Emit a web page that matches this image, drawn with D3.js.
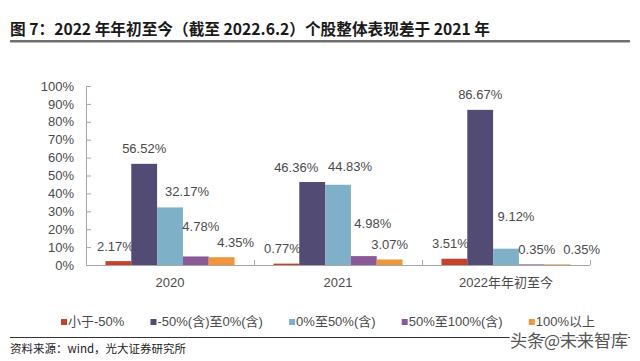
<!DOCTYPE html>
<html>
<head>
<meta charset="utf-8">
<script src="https://cdn.jsdelivr.net/npm/d3@7"></script>
<style>
  body { margin: 0; background: #fff; }
  svg { display: block; }
</style>
</head>
<body>
<div id="chart"></div>
<script>
// data
var categories = ["2020", "2021", "2022年年初至今"];
var seriesNames = ["小于-50%", "-50%(含)至0%(含)", "0%至50%(含)", "50%至100%(含)", "100%以上"];
var seriesColors = ["#c8412b", "#524b74", "#7eb0c7", "#8a5a98", "#f19539"];
var values2020 = [2.17, 56.52, 32.17, 4.78, 4.35];
var values2021 = [0.77, 46.36, 44.83, 4.98, 3.07];
var values2022 = [3.51, 86.67, 9.12, 0.35, 0.35];
var yTicks = [0, 10, 20, 30, 40, 50, 60, 70, 80, 90, 100];

// label nudges (dx, dy) so they sit like in the original
var labelNudge = [
  [[-3, 0], [0, 0], [17, -1], [5, -15], [14, 0]],
  [[-4, 0], [-16, 0], [12, -3], [9, -18], [0, 0]],
  [[-4, 0], [0, 0], [10, -17], [5, 0], [24, 0]]
];

function init() {
  var w = 640, h = 361;
  var left = 86, right = 590, top = 86, bottom = 265;
  var font = "'Liberation Sans', Arial, 'Noto Sans CJK SC', sans-serif";
  var cjk = "'Noto Sans CJK SC', sans-serif";
  var textColor = "#4a4a4a";

  var svg = d3.select("#chart").append("svg")
      .attr("width", w)
      .attr("height", h);

  var rows = [values2020, values2021, values2022];

  // title
  svg.append("text")
      .attr("x", 10)
      .attr("y", 35)
      .attr("font-family", cjk)
      .attr("font-weight", "bold")
      .attr("font-size", "16px")
      .attr("fill", "#1a1a1a")
      .attr("textLength", 480)
      .attr("lengthAdjust", "spacingAndGlyphs")
      .text("图 7：2022 年年初至今（截至 2022.6.2）个股整体表现差于 2021 年");

  svg.append("rect")
      .attr("x", 10).attr("y", 40)
      .attr("width", 620).attr("height", 2.5)
      .attr("fill", "#707070");

  // scales
  var x0 = d3.scaleBand()
      .domain(categories)
      .range([left, right])
      .padding(0);

  var x1 = d3.scaleBand()
      .domain(d3.range(seriesNames.length))
      .range([0, x0.bandwidth()])
      .paddingInner(0)
      .paddingOuter(0.755);

  var y = d3.scaleLinear()
      .domain([0, 100])
      .range([bottom, top]);

  // y axis
  var yAxis = d3.axisLeft(y)
      .tickValues(yTicks)
      .tickSize(-5)
      .tickPadding(12)
      .tickFormat(function(d) { return d + "%"; });

  var gy = svg.append("g")
      .attr("transform", "translate(" + left + ",0)")
      .call(yAxis);
  gy.select(".domain").attr("stroke", "#a6a6a6");
  gy.selectAll(".tick line").attr("stroke", "#a6a6a6");
  gy.selectAll("text")
      .attr("font-family", font)
      .attr("font-size", "13px")
      .attr("fill", textColor);

  // bars
  var groups = svg.selectAll("g.grp")
      .data(rows)
      .enter()
      .append("g")
      .attr("class", "grp")
      .attr("transform", function(d, i) {
          return "translate(" + x0(categories[i]) + ",0)";
      });

  groups.selectAll("rect")
      .data(function(d) { return d; })
      .enter()
      .append("rect")
      .attr("x", function(d, j) { return x1(j); })
      .attr("y", function(d) { return y(d); })
      .attr("width", x1.bandwidth())
      .attr("height", function(d) { return bottom - y(d); })
      .attr("fill", function(d, j) { return seriesColors[j]; });

  // value labels
  groups.each(function(row, i) {
      d3.select(this).selectAll("text.val")
          .data(row)
          .enter()
          .append("text")
          .attr("class", "val")
          .attr("x", function(d, j) { return x1(j) + x1.bandwidth() / 2 + labelNudge[i][j][0]; })
          .attr("y", function(d, j) { return y(d) - 15 + labelNudge[i][j][1]; })
          .attr("dy", "0.35em")
          .attr("text-anchor", "middle")
          .attr("font-family", font)
          .attr("font-size", "13px")
          .attr("fill", textColor)
          .text(function(d) { return d.toFixed(2) + "%"; });
  });

  // x axis
  svg.append("line")
      .attr("x1", left).attr("x2", right)
      .attr("y1", bottom + 0.5).attr("y2", bottom + 0.5)
      .attr("stroke", "#a6a6a6");

  svg.selectAll("line.xtick")
      .data(categories)
      .enter()
      .append("line")
      .attr("class", "xtick")
      .attr("x1", function(d) { return x0(d) + x0.bandwidth() + 0.5; })
      .attr("x2", function(d) { return x0(d) + x0.bandwidth() + 0.5; })
      .attr("y1", bottom - 5)
      .attr("y2", bottom)
      .attr("stroke", "#a6a6a6");

  svg.selectAll("text.cat")
      .data(categories)
      .enter()
      .append("text")
      .attr("class", "cat")
      .attr("x", function(d) { return x0(d) + x0.bandwidth() / 2; })
      .attr("y", 282)
      .attr("dy", "0.35em")
      .attr("text-anchor", "middle")
      .attr("font-family", font)
      .attr("font-size", "13px")
      .attr("fill", textColor)
      .text(function(d) { return d; });

  // legend, spread between 61 and 595
  var legend = svg.append("g");
  var items = legend.selectAll("g")
      .data(seriesNames)
      .enter()
      .append("g");
  items.append("rect")
      .attr("width", 6).attr("height", 6)
      .attr("y", 319)
      .attr("fill", function(d, j) { return seriesColors[j]; });
  items.append("text")
      .attr("x", 7)
      .attr("y", 321)
      .attr("dy", "0.35em")
      .attr("font-family", font)
      .attr("font-size", "13px")
      .attr("fill", textColor)
      .text(function(d) { return d; });

  var widths = [];
  items.each(function() { widths.push(7 + d3.select(this).select("text").node().getComputedTextLength()); });
  var gap = (595 - 61 - d3.sum(widths)) / (widths.length - 1);
  var pos = 61;
  items.attr("transform", function(d, j) {
      var t = "translate(" + pos + ",0)";
      pos += widths[j] + gap;
      return t;
  });

  // footer
  svg.append("line")
      .attr("x1", 10).attr("x2", 630)
      .attr("y1", 337.5).attr("y2", 337.5)
      .attr("stroke", "#333");

  svg.append("text")
      .attr("x", 10)
      .attr("y", 349)
      .attr("dy", "0.35em")
      .attr("font-family", cjk)
      .attr("font-size", "11.5px")
      .attr("fill", "#222")
      .text("资料来源：wind，光大证券研究所");

  svg.append("text")
      .attr("x", 628)
      .attr("y", 341)
      .attr("dy", "0.35em")
      .attr("text-anchor", "end")
      .attr("font-family", cjk)
      .attr("font-size", "17px")
      .attr("fill", "#555")
      .attr("stroke", "#fff")
      .attr("stroke-width", 3)
      .attr("paint-order", "stroke")
      .text("头条@未来智库");
}

window.onload = init;
</script>
</body>
</html>
